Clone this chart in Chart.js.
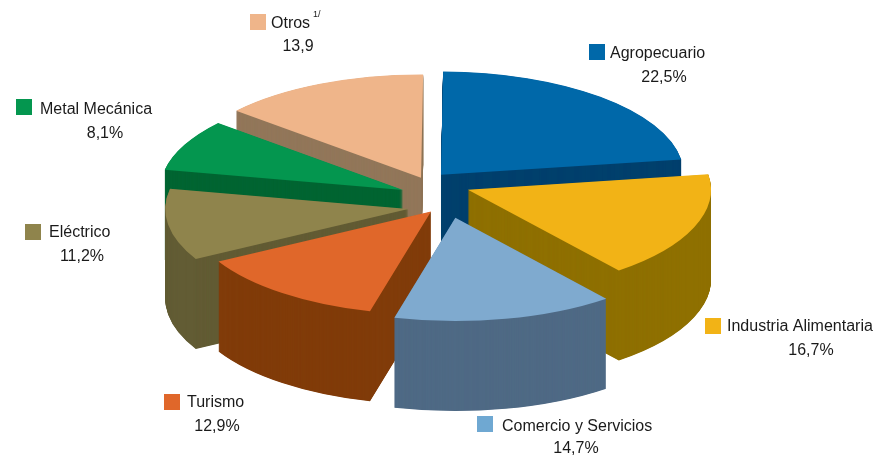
<!DOCTYPE html>
<html>
<head>
<meta charset="utf-8">
<style>
	html, body { margin: 0; padding: 0; background: #fff; }
	canvas { display: block; }
</style>
<script src="https://cdn.jsdelivr.net/npm/chart.js@4/dist/chart.umd.min.js"></script>
</head>
<body>
<canvas id="pie3d" width="875" height="457"></canvas>
<script>
const categories = ['Agropecuario', 'Industria Alimentaria', 'Comercio y Servicios', 'Turismo', 'Eléctrico', 'Metal Mecánica', 'Otros'];
const shares = [22.5, 16.7, 14.7, 12.9, 11.2, 8.1, 13.9];
const shareLabels = ['22,5%', '16,7%', '14,7%', '12,9%', '11,2%', '8,1%', '13,9'];

const topColors = ['#0068a9', '#f2b316', '#7faacf', '#e0672a', '#8f844c', '#04964f', '#efb58a'];
const wallColors = ['#00406d', '#8f7000', '#4f6a85', '#813c0a', '#625c34', '#006532', '#92775a'];
const explode = [17, 32, 33, 21, 33, 33, 20];

// back to front
const paintOrder = [0, 6, 5, 4, 1, 3, 2];
const squash = 0.425;
const depth = 90;
// the slices are not pulled straight out in the reference, they lean counterclockwise
const explodeLean = 24 * Math.PI / 180;

// [square x, square y, text x, text baseline, share center x, share baseline]
const labelLayout = [
	[589, 44, 610, 58, 664, 82],
	[705, 318, 727, 331, 811, 355],
	[477, 416, 502, 431, 576, 453],
	[164, 394, 187, 407, 217, 431],
	[25, 224, 49, 237, 82, 261],
	[16, 99, 40, 114, 105, 138],
	[250, 14, 271, 28, 298, 51]
];

function drawSlice(ctx, arc, color, drop) {
	const mid = (arc.startAngle + arc.endAngle) / 2 - explodeLean;
	const shift = arc.options.offset;
	const opts = arc.options;
	arc.options = Object.assign({}, opts, {backgroundColor: color, borderColor: color, offset: 0});
	ctx.save();
	ctx.translate(arc.x + Math.cos(mid) * shift, arc.y + Math.sin(mid) * shift + drop);
	ctx.scale(1, squash);
	ctx.translate(-arc.x, -arc.y);
	arc.draw(ctx);
	ctx.restore();
	arc.options = opts;
}

const extrudePlugin = {
	id: 'extrude',
	beforeDatasetsDraw(chart) {
		const arcs = chart.getDatasetMeta(0).data;
		const ctx = chart.ctx;
		paintOrder.forEach(i => {
			for (let d = depth; d > 0; d -= 0.5) drawSlice(ctx, arcs[i], wallColors[i], d);
			drawSlice(ctx, arcs[i], topColors[i], 0);
		});
		return false;
	},
	afterDraw(chart) {
		const ctx = chart.ctx;
		ctx.save();
		ctx.font = '16px "Liberation Sans"';
		categories.forEach((name, i) => {
			const [sx, sy, tx, ty, px, py] = labelLayout[i];
			ctx.fillStyle = i === 2 ? '#6fa8d2' : topColors[i];
			ctx.fillRect(sx, sy, 16, 16);
			ctx.fillStyle = '#1a1a1a';
			ctx.textAlign = 'left';
			ctx.fillText(name, tx, ty);
			ctx.textAlign = 'center';
			ctx.fillText(shareLabels[i], px, py);
		});
		ctx.textAlign = 'left';
		ctx.font = '9px "Liberation Sans"';
		ctx.fillText('1/', 313, 17);
		ctx.restore();
	}
};

new Chart(document.getElementById('pie3d'), {
	type: 'pie',
	data: {
		labels: categories,
		datasets: [{
			data: shares,
			backgroundColor: topColors,
			borderWidth: 0,
			offset: explode,
			hoverOffset: 0
		}]
	},
	options: {
		responsive: false,
		animation: false,
		radius: 243,
		rotation: 0.5,
		layout: {padding: {right: 3, bottom: 75}},
		plugins: {legend: {display: false}, tooltip: {enabled: false}}
	},
	plugins: [extrudePlugin]
});
</script>
</body>
</html>
